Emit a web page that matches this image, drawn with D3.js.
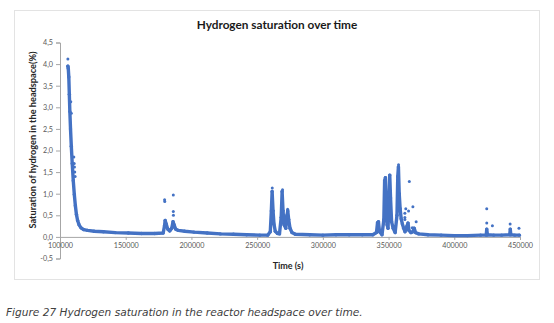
<!DOCTYPE html>
<html><head><meta charset="utf-8">
<script src="https://cdn.jsdelivr.net/npm/d3@7"></script>
<style>
html,body{margin:0;padding:0;background:#fff;}
svg{display:block;}
</style></head>
<body>
<svg id="c" width="554" height="323"></svg>
<script>
// Main trace (time in s, H2 saturation in %)
const mainTime = [106000,106300,106700,107100,107500,108000,108600,109300,110100,110900,111700,112500,113400,114500,116000,118000,121000,126000,133000,142000,152000,162000,172000,178500,179500,180000,180800,182000,183500,185000,186000,186800,188000,190000,195000,202000,212000,222000,232000,242000,252000,258000,260000,260800,261400,262100,262800,263800,265500,267000,268300,269000,269700,270500,271800,272700,273300,274000,275000,276500,279000,290000,300000,310000,320000,330000,338000,340800,341600,342300,343100,345000,346400,347000,347600,348200,348900,349600,350300,350900,351500,352300,353500,355000,356400,357000,357500,358100,358800,359600,360500,361500,362500,364000,364800,365500,367000,368500,369500,370500,373000,380000,390000,400000,410000,420000,424300,424700,425200,430000,436000,442200,442600,443000,446000,449500];
const mainValue = [3.95,3.9,3.7,3.3,2.9,2.5,2.1,1.7,1.3,0.98,0.72,0.52,0.38,0.28,0.21,0.17,0.15,0.13,0.12,0.10,0.09,0.08,0.08,0.09,0.25,0.38,0.30,0.18,0.14,0.2,0.35,0.28,0.18,0.15,0.13,0.11,0.09,0.07,0.06,0.05,0.04,0.04,0.12,0.6,1.05,0.6,0.3,0.13,0.08,0.07,0.45,1.05,0.6,0.28,0.2,0.5,0.6,0.4,0.2,0.1,0.06,0.05,0.04,0.05,0.05,0.05,0.05,0.1,0.33,0.35,0.12,0.05,0.4,1.3,1.37,0.7,0.28,0.2,0.9,1.43,0.9,0.35,0.2,0.1,0.5,1.4,1.62,1.0,0.65,0.42,0.3,0.2,0.12,0.25,0.32,0.15,0.1,0.12,0.2,0.1,0.07,0.05,0.04,0.03,0.03,0.04,0.04,0.18,0.05,0.04,0.04,0.05,0.18,0.05,0.04,0.04];
// Scattered single readings
const dotTime = [106000,108200,108600,110500,110800,111000,111200,111500,179600,179700,186200,186200,186300,261500,269300,273200,357600,365800,363100,365200,368500,371000,368000,362400,362400,362400,424700,424700,429000,442500,449200];
const dotValue = [4.12,3.13,2.86,1.85,1.7,1.62,1.5,1.4,0.86,0.82,0.97,0.59,0.5,1.13,1.09,0.64,1.67,1.28,0.65,0.6,0.7,0.35,0.21,0.55,0.45,0.4,0.65,0.32,0.26,0.3,0.2];
const xTicks = [100000,150000,200000,250000,300000,350000,400000,450000];
const yTicks = [-0.5,0,0.5,1,1.5,2,2.5,3,3.5,4,4.5];
const titleText = "Hydrogen saturation over time";
const xTitle = "Time (s)";
const yTitle = "Saturation of hydrogen in the headspace(%)";
const caption = "Figure 27 Hydrogen saturation in the reactor headspace over time.";

const svg = d3.select("#c");
const blue = "#4472C4";
const x = d3.scaleLinear().domain([100000,450000]).range([60,520]);
const y = d3.scaleLinear().domain([-0.5,4.5]).range([258.5,42.5]);

svg.append("rect").attr("x",14.5).attr("y",10.5).attr("width",525).attr("height",269)
  .attr("fill","#fff").attr("stroke","#e3e3e3");

svg.append("text").attr("x",277).attr("y",29).attr("text-anchor","middle")
  .attr("font-family","Lato, 'Open Sans', sans-serif").attr("font-weight","bold")
  .attr("font-size",11.8).attr("fill","#1a1a1a").text(titleText);

// y axis
const ya = svg.append("g").attr("transform","translate(60,0)")
  .call(d3.axisLeft(y).tickValues(yTicks).tickSize(4).tickPadding(3)
  .tickFormat(d=>d3.format(".1f")(d).replace(".",",").replace("−","-")));
ya.select(".domain").attr("stroke","#a6a6a6");
ya.selectAll(".tick line").attr("stroke","#a6a6a6");
ya.selectAll("text").attr("font-family","Lato, sans-serif").attr("font-size",7.2).attr("fill","#595959");

// x axis at y=0
const xa = svg.append("g").attr("transform",`translate(0,${y(0)})`)
  .call(d3.axisBottom(x).tickValues(xTicks).tickSize(3).tickPadding(3).tickFormat(d3.format("d")));
xa.select(".domain").attr("stroke","#a6a6a6");
xa.selectAll(".tick line").attr("stroke","#a6a6a6");
xa.selectAll("text").attr("font-family","Lato, sans-serif").attr("font-size",7.2).attr("fill","#595959");

// data
const pts = mainTime.map((t,i)=>[t,mainValue[i]]);
svg.append("path").datum(pts)
  .attr("d", d3.line().x(d=>x(d[0])).y(d=>y(d[1])))
  .attr("fill","none").attr("stroke",blue).attr("stroke-width",3.4)
  .attr("stroke-linejoin","round").attr("stroke-linecap","round");
svg.append("g").selectAll("circle").data(pts).join("circle")
  .attr("cx",d=>x(d[0])).attr("cy",d=>y(d[1])).attr("r",1.7).attr("fill",blue);
svg.append("g").selectAll("circle").data(dotTime.map((t,i)=>[t,dotValue[i]])).join("circle")
  .attr("cx",d=>x(d[0])).attr("cy",d=>y(d[1])).attr("r",1.5).attr("fill",blue);

svg.append("text").attr("x",288).attr("y",269).attr("text-anchor","middle")
  .attr("font-family","Lato, sans-serif").attr("font-weight","bold")
  .attr("font-size",9).attr("fill","#262626").text(xTitle);
svg.append("text").attr("transform","translate(36,140) rotate(-90)").attr("text-anchor","middle")
  .attr("font-family","Lato, sans-serif").attr("font-weight","bold")
  .attr("font-size",9.2).attr("fill","#262626").text(yTitle);

svg.append("text").attr("x",6).attr("y",316)
  .attr("font-family","'DejaVu Sans', sans-serif").attr("font-style","italic")
  .attr("font-size",10.6).attr("fill","#404040").text(caption);
</script>
</body></html>
